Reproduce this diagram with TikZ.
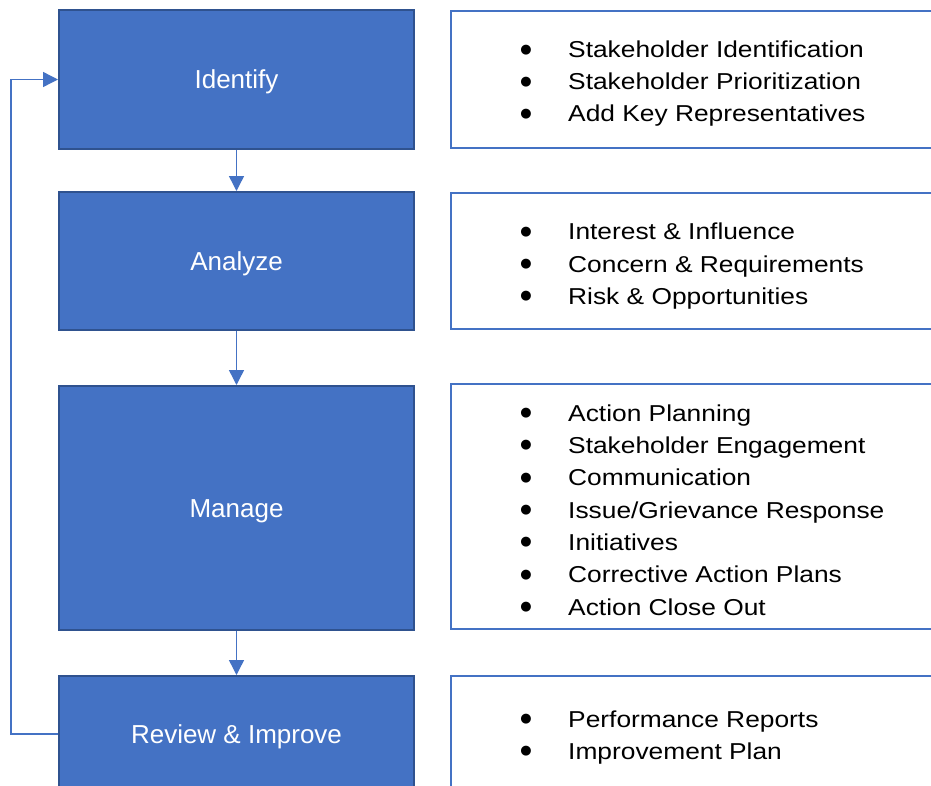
\documentclass[tikz,border=0pt]{standalone}
\usepackage{fontspec}
\setmainfont{Liberation Sans}
\newfontfamily\dejavu{DejaVu Sans}
\usetikzlibrary{arrows.meta}
\definecolor{boxblue}{HTML}{4472C4}
\definecolor{boxedge}{HTML}{2F528F}
\newcommand\bul{\raisebox{4.6pt}{\fontsize{13}{13}\dejavu ●}}
\newcommand\itm[1]{\makebox[0pt][r]{\bul\hspace{36.5pt}}\scalebox{1.145}[1]{#1}}
\tikzset{
  stage/.style={rectangle, fill=boxblue, draw=boxedge, line width=2pt,
    minimum width=355pt, text=white, font=\fontsize{26}{30}\selectfont,
    inner sep=0pt, text height=18.6pt, text depth=0pt},
  listbox/.style={rectangle, fill=white, draw=boxblue, line width=2.5pt,
    minimum width=509pt, inner sep=0pt},
  item/.style={anchor=base west, inner sep=0pt, text=black,
    font=\fontsize{23}{28}\selectfont},
  flow/.style={draw=boxblue, line width=1.4pt, -{Triangle[width=15pt,length=15pt]}}
}
\begin{document}
\begin{tikzpicture}[x=1pt,y=-1pt]
\useasboundingbox (0,0) rectangle (931,785);
\clip (0,0) rectangle (931,785);
\fill[white] (0,0) rectangle (931,785);
% left stages
\node[stage, minimum height=139pt] (identify) at (236.5,79.5) {Identify};
\node[stage, minimum height=138pt] (analyze) at (236.5,261) {Analyze};
\node[stage, minimum height=244pt] (manage) at (236.5,508) {Manage};
\node[stage, minimum height=116pt] (review) at (236.5,734) {Review \& Improve};
% right lists
\node[listbox, minimum height=137pt] (idlist) at (705.5,79.5) {};
\node[listbox, minimum height=136pt] (anlist) at (705.5,261) {};
\node[listbox, minimum height=245pt] (malist) at (705.5,506.5) {};
\node[listbox, minimum height=116pt] (relist) at (705.5,734) {};
% items
\foreach \t [count=\i] in {Stakeholder Identification, Stakeholder Prioritization, Add Key Representatives}
  \node[item] (idi\i) at (568,{57.7+32.1*(\i-1)}) {\itm{\t}};
\foreach \t [count=\i] in {Interest \& Influence, Concern \& Requirements, Risk \& Opportunities}
  \node[item] (ani\i) at (568,{239.7+32.3*(\i-1)}) {\itm{\t}};
\foreach \t [count=\i] in {Action Planning, Stakeholder Engagement, Communication, Issue/Grievance Response, Initiatives, Corrective Action Plans, Action Close Out}
  \node[item] (mai\i) at (568,{421.2+32.3*(\i-1)}) {\itm{\t}};
\foreach \t [count=\i] in {Performance Reports, Improvement Plan}
  \node[item] (rei\i) at (568,{727.2+32.3*(\i-1)}) {\itm{\t}};
% connectors
\draw[flow] (identify) -- (analyze);
\draw[flow] (analyze) -- (manage);
\draw[flow] (manage) -- (review);
\coordinate (loopx) at (11,0);
\draw[flow] (review.west) -- (review.west -| loopx) |- (identify.west);
\end{tikzpicture}
\end{document}
